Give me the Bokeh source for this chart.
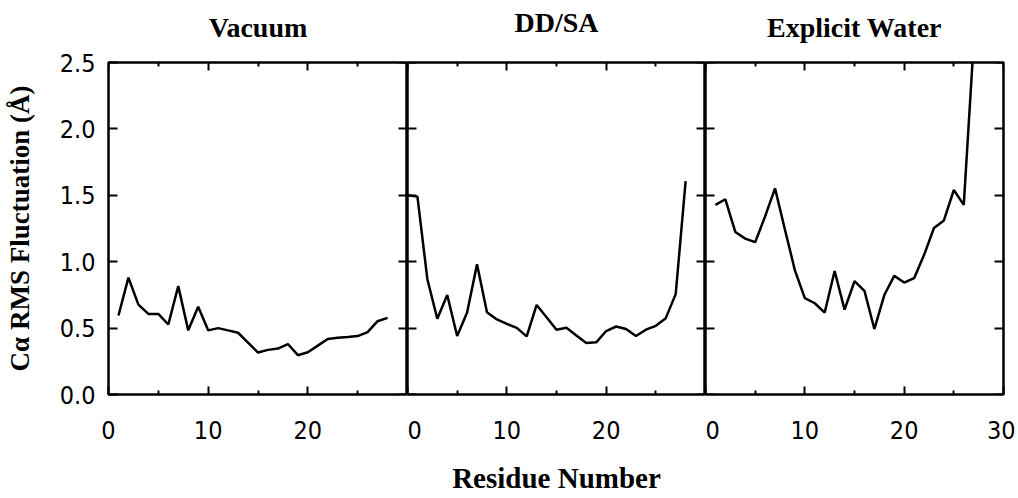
from bokeh.plotting import figure
from bokeh.layouts import row, column
from bokeh.models import Range1d, FixedTicker, LinearAxis, CustomLabelingPolicy
from bokeh.core.properties import value
from bokeh.embed import file_html
from bokeh.resources import INLINE

# ---- data ----
titles = ["Vacuum", "DD/SA", "Explicit Water"]

vacuum_res = list(range(1, 29))
vacuum_rmsf = [0.595, 0.88, 0.677, 0.607, 0.607, 0.527, 0.816, 0.483, 0.66, 0.483,
               0.50, 0.483, 0.465, 0.39, 0.316, 0.336, 0.346, 0.38, 0.296, 0.318,
               0.368, 0.418, 0.428, 0.433, 0.44, 0.47, 0.552, 0.577]

ddsa_res = list(range(0, 29))
ddsa_rmsf = [1.50, 1.49, 0.868, 0.57, 0.749, 0.44, 0.617, 0.98, 0.62, 0.565,
             0.532, 0.502, 0.438, 0.674, 0.582, 0.488, 0.502, 0.445, 0.388, 0.393,
             0.478, 0.512, 0.493, 0.44, 0.488, 0.517, 0.575, 0.756, 1.607]

water_res = list(range(1, 28))
water_rmsf = [1.428, 1.47, 1.224, 1.174, 1.147, 1.341, 1.552, 1.241, 0.935, 0.726,
              0.687, 0.617, 0.93, 0.639, 0.853, 0.781, 0.493, 0.749, 0.893, 0.843,
              0.876, 1.05, 1.254, 1.311, 1.54, 1.428, 2.65]

x_major = [0, 10, 20]
x_major_last = [0, 10, 20, 30]
x_minor = [5, 15, 25]
y_ticks = [0.0, 0.5, 1.0, 1.5, 2.0, 2.5]
y_tick_labels = ["0.0", "0.5", "1.0", "1.5", "2.0", "2.5"]

x_label = "Residue Number"
y_label = "C\u03b1 RMS Fluctuation (\u00c5)"

# ---- layout / style constants ----
TICK_FONT = "DejaVu Sans Condensed, Roboto, sans-serif"
SERIF = "Liberation Serif"

HEADER_H = 44
H = 452
TOP = 18
BOTTOM = 99
LEFT = 108
FRAME_W = [299, 298, 298]
RIGHT_PAD = 12
TITLE_MID = [17.5, 21.7, 17.5]   # title centre height inside the header strip


def hide_labels(ax):
    ax.major_label_policy = CustomLabelingPolicy(code="return []")
    ax.major_label_standoff = 0


def style_x_axis(ax, ticks, show_labels, label=None):
    ax.ticker = FixedTicker(ticks=ticks, minor_ticks=x_minor)
    ax.axis_line_color = None
    ax.major_tick_in = 8
    ax.major_tick_out = 0
    ax.minor_tick_in = 4
    ax.minor_tick_out = 0
    ax.major_tick_line_width = 2
    ax.minor_tick_line_width = 2
    ax.major_tick_line_color = "black"
    ax.minor_tick_line_color = "black"
    if show_labels:
        ax.major_label_text_font = TICK_FONT
        ax.major_label_text_font_size = "25px"
        ax.major_label_text_color = "black"
        ax.major_label_standoff = 26
        ax.major_label_overrides = {t: str(t) for t in ticks}
    else:
        hide_labels(ax)
    if label:
        ax.axis_label = label
        ax.axis_label_text_font = SERIF
        ax.axis_label_text_font_style = "bold"
        ax.axis_label_text_font_size = "29px"
        ax.axis_label_text_color = "black"
        ax.axis_label_standoff = 20


def style_y_axis(ax, show_labels, label=None):
    ax.ticker = FixedTicker(ticks=y_ticks, minor_ticks=[])
    ax.axis_line_color = None
    ax.major_tick_in = 9
    ax.major_tick_out = 0
    ax.minor_tick_line_color = None
    ax.major_tick_line_width = 2
    ax.major_tick_line_color = "black"
    if show_labels:
        ax.major_label_text_font = TICK_FONT
        ax.major_label_text_font_size = "25px"
        ax.major_label_text_color = "black"
        ax.major_label_standoff = 13
        ax.major_label_overrides = {t: s for t, s in zip(y_ticks, y_tick_labels)}
    else:
        hide_labels(ax)
    if label:
        ax.axis_label = label
        ax.axis_label_text_font = SERIF
        ax.axis_label_text_font_style = "bold"
        ax.axis_label_text_font_size = "27px"
        ax.axis_label_text_color = "black"
        ax.axis_label_standoff = 22


def make_panel(xs, ys, width, left, right, xticks, first=False, middle=False):
    p = figure(width=width, height=H, x_range=Range1d(0, 30), y_range=Range1d(0, 2.5),
               output_backend="svg", toolbar_location=None,
               min_border=0, min_border_left=left, min_border_right=right,
               min_border_top=TOP, min_border_bottom=BOTTOM)
    p.background_fill_color = "white"
    p.border_fill_color = "white"
    p.outline_line_color = "black"
    p.outline_line_width = 2.5
    p.grid.visible = False

    style_x_axis(p.xaxis[0], xticks, True, x_label if middle else None)
    style_y_axis(p.yaxis[0], first, y_label if first else None)
    if not first:
        p.yaxis[0].fixed_location = 0

    top_ax = LinearAxis(fixed_location=2.5)
    style_x_axis(top_ax, xticks, False)
    p.add_layout(top_ax, "above")
    right_ax = LinearAxis(fixed_location=30)
    style_y_axis(right_ax, False)
    p.add_layout(right_ax, "right")

    p.line(xs, ys, line_color="black", line_width=2.5)
    return p


widths = [LEFT + FRAME_W[0], FRAME_W[1], FRAME_W[2] + RIGHT_PAD]
p1 = make_panel(vacuum_res, vacuum_rmsf, widths[0], LEFT, 0, x_major, first=True)
p2 = make_panel(ddsa_res, ddsa_rmsf, widths[1], 0, 0, x_major, middle=True)
p3 = make_panel(water_res, water_rmsf, widths[2], 0, RIGHT_PAD, x_major_last)

# header strip carrying the three panel titles, centred over each frame
total_w = sum(widths)
frame_left = [LEFT, LEFT + FRAME_W[0], LEFT + FRAME_W[0] + FRAME_W[1]]
centers = [fl + fw / 2 for fl, fw in zip(frame_left, FRAME_W)]
header = figure(width=total_w, height=HEADER_H, x_range=Range1d(0, total_w),
                y_range=Range1d(0, HEADER_H), output_backend="svg",
                toolbar_location=None, x_axis_location=None, y_axis_location=None,
                min_border=0)
header.outline_line_color = None
header.grid.visible = False
header.background_fill_color = "white"
header.border_fill_color = "white"
header.text(x=centers, y=TITLE_MID, text=titles, text_align="center",
            text_baseline="middle", text_font=value(SERIF),
            text_font_style="bold", text_font_size=value("28px"), text_color="black")

layout = column(header, row(p1, p2, p3, spacing=0), spacing=0)

open("out.html", "w").write(file_html(layout, INLINE))
